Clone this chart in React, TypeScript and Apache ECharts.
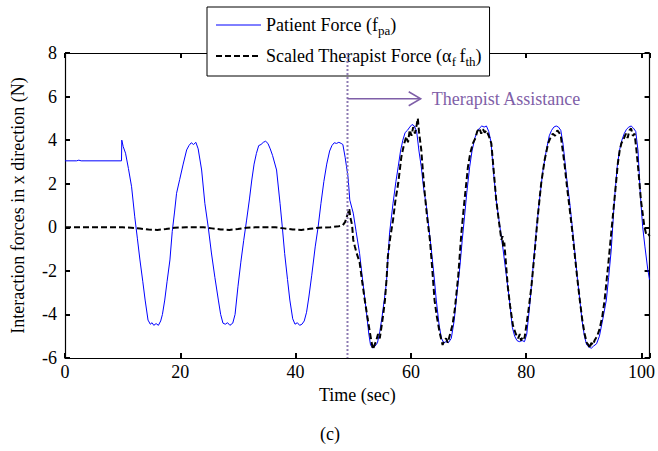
import React, { useEffect, useRef } from "react";
import * as echarts from "echarts";

// Time (sec), Patient force f_pa (N)
const patientForce: [number, number][] = [
  [0, 3.05], [2, 3.05], [2.4, 3.08], [2.8, 3.05], [9.8, 3.05], [9.85, 4.0], [10.1, 3.7], [10.5, 3.4], [11.0, 2.7],
  [11.55, 1.86], [12.1, 0.48], [12.55, -0.5], [13.0, -1.5], [13.5, -2.5], [13.9, -3.34], [14.4, -4.26], [14.8, -4.45],
  [15.1, -4.38], [15.4, -4.5], [15.8, -4.42], [16.2, -4.5], [16.6, -4.3], [16.9, -4.0], [17.3, -3.34], [17.7, -2.5],
  [18.2, -1.5], [18.6, -0.2], [19.0, 0.7], [19.35, 1.56], [19.9, 2.2], [20.5, 2.9], [21.1, 3.55], [21.5, 3.75],
  [21.9, 3.88], [22.3, 3.8], [22.7, 3.9], [23.1, 3.6], [23.7, 2.63], [24.26, 1.1], [24.85, 0.0], [25.4, -1.18],
  [26.0, -2.3], [26.6, -3.34], [27.0, -4.0], [27.4, -4.4], [27.8, -4.45], [28.2, -4.38], [28.6, -4.5], [29.1, -4.4],
  [29.5, -4.0], [30.0, -2.73], [30.5, -1.6], [31.0, -0.6], [31.5, 0.33], [32.0, 1.3], [32.4, 2.17], [32.8, 2.9],
  [33.2, 3.39], [33.6, 3.75], [34.0, 3.8], [34.4, 3.9], [34.8, 3.95], [35.2, 3.85], [35.6, 3.6], [36.0, 3.3],
  [36.7, 2.63], [37.3, 1.1], [37.7, 0.0], [38.1, -1.2], [38.6, -2.4], [39.0, -3.34], [39.5, -4.2], [39.9, -4.45],
  [40.3, -4.38], [40.7, -4.5], [41.1, -4.45], [41.5, -4.3], [41.9, -3.9], [42.3, -3.2], [42.8, -2.2], [43.4, -0.9],
  [43.9, 0.0], [44.4, 1.1], [44.9, 2.1], [45.4, 2.9], [45.9, 3.5], [46.3, 3.75], [46.7, 3.88], [47.1, 3.85],
  [47.5, 3.9], [47.9, 3.85], [48.2, 3.8], [48.6, 3.2], [49.1, 2.3], [49.4, 1.25], [50.0, 0.65], [50.5, -0.2],
  [51.1, -1.2], [51.7, -2.6], [52.3, -3.93], [52.7, -4.9], [53.0, -5.4], [53.4, -5.55], [53.8, -5.45], [54.2, -5.3],
  [54.6, -4.8], [55.0, -4.1], [55.4, -3.3], [55.75, -2.56], [56.3, -0.26], [56.9, 1.1], [57.4, 2.1], [57.8, 2.78],
  [58.2, 3.5], [58.6, 4.0], [59.0, 4.35], [59.4, 4.45], [59.8, 4.6], [60.2, 4.72], [60.6, 4.65], [61.0, 4.4],
  [61.4, 3.5], [61.8, 2.78], [62.2, 1.8], [62.7, 0.94], [63.1, 0.0], [63.55, -1.04], [64.0, -2.2], [64.4, -3.34],
  [64.9, -4.5], [65.3, -5.1], [65.7, -5.3], [66.1, -5.25], [66.5, -5.3], [67.0, -5.1], [67.5, -4.3], [68.0, -3.0],
  [68.5, -1.8], [68.9, -0.6], [69.3, 0.48], [69.7, 1.6], [70.2, 2.78], [70.6, 3.5], [71.1, 4.1], [71.5, 4.4],
  [71.9, 4.55], [72.3, 4.65], [72.7, 4.6], [73.1, 4.65], [73.5, 4.4], [73.9, 3.9], [74.3, 2.6], [74.8, 1.25],
  [75.4, 0.1], [76.0, -1.04], [76.5, -2.1], [77.1, -3.34], [77.6, -4.6], [78.0, -5.0], [78.4, -5.2], [78.8, -5.25],
  [79.3, -5.2], [79.7, -5.25], [80.1, -4.9], [80.6, -3.6], [81.2, -1.8], [81.7, -0.3], [82.3, 1.25], [82.9, 2.6],
  [83.5, 3.55], [84.0, 4.2], [84.4, 4.45], [84.8, 4.6], [85.2, 4.65], [85.6, 4.6], [86.0, 4.45], [86.4, 3.8],
  [87.0, 2.3], [87.5, 1.25], [88.0, 0.0], [88.4, -1.04], [88.9, -2.4], [89.3, -3.34], [89.7, -4.3], [90.1, -5.0],
  [90.5, -5.4], [90.9, -5.5], [91.3, -5.55], [91.7, -5.45], [92.2, -5.35], [92.7, -5.0], [93.3, -4.2], [93.9, -3.34],
  [94.3, -2.3], [94.75, -1.04], [95.3, 1.25], [95.8, 2.8], [96.2, 3.55], [96.6, 4.0], [97.0, 4.3], [97.4, 4.5],
  [97.8, 4.6], [98.2, 4.65], [98.6, 4.55], [99.0, 4.4], [99.4, 3.5], [99.8, 1.5], [100.2, 0.03], [100.6, -0.9],
  [101.1, -1.96], [101.4, -2.4],
];

// Time (sec), Scaled therapist force alpha_f * f_th (N)
const therapistForce: [number, number][] = [
  [0, 0], [10, 0], [11.5, -0.02], [13, -0.06], [14.5, -0.1], [16, -0.12], [17.5, -0.08], [19, -0.02], [21, 0],
  [24, 0], [25.5, -0.05], [27, -0.1], [28.5, -0.12], [30, -0.08], [31.5, -0.02], [33, 0], [36.5, 0], [38, -0.05],
  [39.5, -0.1], [41, -0.12], [42.5, -0.07], [44, -0.02], [46, 0], [47.5, 0.05], [48.2, 0.1], [48.6, 0.25],
  [48.9, 0.5], [49.1, 0.64], [49.3, 0.85], [49.5, 0.45], [49.8, 0.1], [50.0, -0.58], [50.3, -0.9], [50.6, -1.2],
  [51.1, -1.6], [51.5, -2.4], [52.0, -3.34], [52.5, -4.2], [52.9, -4.85], [53.2, -5.3], [53.4, -5.6], [53.7, -5.4],
  [54.0, -5.2], [54.3, -4.9], [54.6, -5.1], [54.9, -4.56], [55.2, -4.0], [55.5, -3.34], [55.8, -2.3], [56.0, -1.35],
  [56.4, -0.5], [56.9, 0.33], [57.3, 1.2], [57.8, 2.02], [58.35, 3.24], [58.8, 3.8], [59.2, 4.16], [59.5, 3.9],
  [59.8, 4.47], [60.1, 4.2], [60.4, 4.6], [60.7, 4.3], [61.0, 4.7], [61.2, 5.0], [61.4, 4.4], [61.8, 3.55],
  [62.1, 2.5], [62.4, 1.56], [62.8, 0.5], [63.3, -0.58], [63.7, -1.9], [64.1, -3.34], [64.5, -4.1], [65.0, -4.85],
  [65.5, -5.4], [65.8, -5.2], [66.1, -5.1], [66.4, -5.3], [66.7, -5.0], [67.2, -4.5], [67.6, -3.8], [68.2, -2.27],
  [68.75, -0.28], [69.3, 1.25], [69.9, 2.78], [70.3, 3.4], [70.75, 3.85], [71.2, 4.1], [71.5, 4.4], [71.9, 4.54],
  [72.2, 4.3], [72.5, 4.5], [72.8, 4.35], [73.1, 4.45], [73.5, 4.2], [73.95, 3.85], [74.3, 2.8], [74.8, 1.25],
  [75.3, 0.2], [75.7, -0.58], [75.9, -0.4], [76.0, -0.9], [76.2, -0.7], [76.8, -2.7], [77.2, -3.6], [77.7, -4.5],
  [78.2, -4.9], [78.6, -5.1], [78.9, -4.9], [79.1, -5.2], [79.4, -5.0], [79.7, -5.1], [80.0, -4.56], [80.4, -3.8],
  [80.9, -2.73], [81.5, -1.04], [82.0, 0.48], [82.6, 2.02], [83.2, 3.09], [83.8, 3.85], [84.2, 4.1], [84.6, 4.3],
  [85.0, 4.2], [85.4, 4.45], [85.7, 4.35], [86.0, 4.2], [86.3, 3.6], [86.7, 2.78], [87.1, 1.8], [87.5, 0.94],
  [88.0, -0.2], [88.4, -1.2], [88.8, -2.2], [89.3, -3.34], [89.7, -4.2], [90.1, -4.85], [90.5, -5.3], [90.8, -5.4],
  [91.0, -5.55], [91.3, -5.3], [91.6, -5.4], [91.85, -5.2], [92.3, -5.0], [92.7, -4.7], [93.2, -4.1], [93.6, -3.34],
  [94.2, -1.8], [94.75, -0.26], [95.3, 1.25], [95.9, 2.94], [96.2, 3.5], [96.5, 3.85], [96.9, 4.05], [97.3, 4.3],
  [97.6, 4.1], [97.9, 4.45], [98.2, 4.54], [98.5, 4.2], [98.8, 4.3], [99.1, 3.6], [99.4, 2.78], [99.9, 1.25],
  [100.5, 0.03], [100.8, -0.3], [101.1, -0.26], [101.4, -0.4],
];

// Axis ranges and ticks
const xMin = 0;
const xMax = 101.4;
const xInterval = 20;
const yMin = -6;
const yMax = 8;
const yInterval = 2;

// Annotation: therapist assistance starts at t = 49 s, arrow to t = 61.7 s at F = 5.9 N
const assistance: [number, number, number][] = [[49, 61.7, 5.9]];
const assistanceLabel = "Therapist Assistance";

const seriesNames = ["Patient Force (fpa)", "Scaled Therapist Force (αf fth)"];
const legendLabels = ["Patient Force (f{sub|pa})", "Scaled Therapist Force (α{sub|f }f{sub|th})"];
const xTitle = "Time (sec)";
const yTitle = "Interaction forces in x direction (N)";
const caption = "(c)";

const FONT = "'Liberation Serif', 'Times New Roman', serif";
const FS = 18;
const PURPLE = "#7f5fa8";
const PURPLE_DOT = "#8e7cb3";

const tick = () => ({ show: true, inside: true, length: 5, lineStyle: { color: "#000", width: 2 } });
const line = () => ({ show: true, onZero: false, lineStyle: { color: "#000", width: 1.2 } });

export default function App() {
  const ref = useRef<HTMLDivElement>(null);
  useEffect(() => {
    if (!ref.current) return;
    const chart = echarts.init(ref.current, undefined, { renderer: "svg" });
    chart.setOption({
      animation: false,
      backgroundColor: "#fff",
      grid: { left: 65, right: 8, top: 53, bottom: 93 },
      legend: {
        orient: "vertical",
        left: 207,
        top: 7,
        padding: [9, 8, 8, 8],
        itemGap: 10,
        itemWidth: 45,
        itemHeight: 14,
        backgroundColor: "#fff",
        borderColor: "#000",
        borderWidth: 1,
        borderRadius: 0,
        itemStyle: { opacity: 0 },
        lineStyle: { width: "inherit" },
        data: seriesNames,
        formatter: (name: string) => legendLabels[seriesNames.indexOf(name)],
        textStyle: {
          fontFamily: FONT,
          fontSize: FS,
          color: "#000",
          rich: {
            sub: { fontFamily: FONT, fontSize: 13, color: "#000", padding: [11, 0, 0, 0] },
          },
        },
      },
      xAxis: [
        {
          type: "value",
          min: xMin,
          max: xMax,
          interval: xInterval,
          axisLine: line(),
          axisTick: tick(),
          splitLine: { show: false },
          axisLabel: {
            color: "#000",
            fontFamily: FONT,
            fontSize: FS,
            margin: 5,
            formatter: (v: number) => (v % xInterval === 0 ? String(v) : ""),
          },
          name: xTitle,
          nameLocation: "middle",
          nameGap: 28,
          nameTextStyle: { color: "#000", fontFamily: FONT, fontSize: FS },
        },
        {
          type: "value",
          position: "top",
          min: xMin,
          max: xMax,
          interval: xInterval,
          axisLine: line(),
          axisTick: tick(),
          splitLine: { show: false },
          axisLabel: { show: false },
        },
      ],
      yAxis: [
        {
          type: "value",
          min: yMin,
          max: yMax,
          interval: yInterval,
          axisLine: line(),
          axisTick: tick(),
          splitLine: { show: false },
          axisLabel: { color: "#000", fontFamily: FONT, fontSize: FS, margin: 8 },
          name: yTitle,
          nameLocation: "middle",
          nameGap: 38,
          nameTextStyle: { color: "#000", fontFamily: FONT, fontSize: FS },
        },
        {
          type: "value",
          position: "right",
          min: yMin,
          max: yMax,
          interval: yInterval,
          axisLine: line(),
          axisTick: tick(),
          splitLine: { show: false },
          axisLabel: { show: false },
        },
      ],
      series: [
        {
          name: seriesNames[0],
          type: "line",
          data: patientForce,
          symbol: "none",
          lineStyle: { color: "#0000ff", width: 1 },
          itemStyle: { color: "#0000ff" },
          z: 2,
        },
        {
          name: seriesNames[1],
          type: "line",
          data: therapistForce,
          symbol: "none",
          lineStyle: { color: "#000", width: 2, type: [6, 3] },
          itemStyle: { color: "#000" },
          z: 3,
        },
        {
          type: "custom",
          data: assistance,
          encode: { x: [0, 1], y: 2 },
          z: 4,
          silent: true,
          renderItem: (_params: any, api: any) => {
            const x0 = api.value(0);
            const x1 = api.value(1);
            const y = api.value(2);
            const top = api.coord([x0, yMax]);
            const bot = api.coord([x0, yMin]);
            const a = api.coord([x0, y]);
            const b = api.coord([x1, y]);
            return {
              type: "group",
              children: [
                {
                  type: "line",
                  shape: { x1: top[0], y1: top[1], x2: bot[0], y2: bot[1] },
                  style: { stroke: PURPLE_DOT, lineWidth: 2, lineDash: [2, 2] },
                },
                {
                  type: "line",
                  shape: { x1: a[0], y1: a[1], x2: b[0], y2: b[1] },
                  style: { stroke: PURPLE, lineWidth: 1.5 },
                },
                {
                  type: "polyline",
                  shape: { points: [[b[0] - 12, b[1] - 7], [b[0], b[1]], [b[0] - 12, b[1] + 7]] },
                  style: { stroke: PURPLE, lineWidth: 1.5, fill: "none" },
                },
                {
                  type: "text",
                  x: b[0] + 11,
                  y: b[1],
                  style: {
                    text: assistanceLabel,
                    fill: PURPLE,
                    fontFamily: FONT,
                    fontSize: FS,
                    align: "left",
                    verticalAlign: "middle",
                  },
                },
              ],
            };
          },
        },
      ],
      graphic: [
        {
          type: "text",
          x: 330,
          y: 434,
          style: { text: caption, fill: "#000", fontFamily: FONT, fontSize: FS, align: "center", verticalAlign: "middle" },
        },
      ],
    });
    return () => chart.dispose();
  }, []);
  return <div ref={ref} style={{ position: "fixed", left: 0, top: 0, width: 658, height: 451 }} />;
}
